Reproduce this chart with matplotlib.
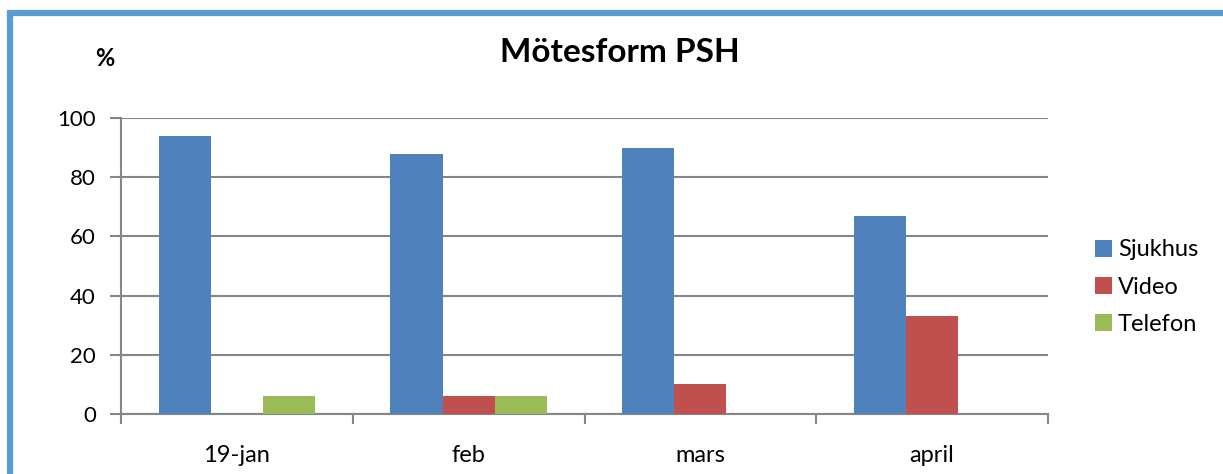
import matplotlib
matplotlib.use("Agg")
import matplotlib.pyplot as plt
import numpy as np
from matplotlib.patches import Rectangle

categories = ["19-jan", "feb", "mars", "april"]
sjukhus = [94, 88, 90, 67]
video = [0, 6, 10, 33]
telefon = [6, 6, 0, 0]
series_names = ["Sjukhus", "Video", "Telefon"]
colors = ["#4F81BD", "#C0504D", "#9BBB59"]
yticks = [0, 20, 40, 60, 80, 100]

plt.rcParams['font.family'] = ['Lato', 'DejaVu Sans']

W, H = 1223, 474
fig = plt.figure(figsize=(W / 100, H / 100), dpi=100)
ax = fig.add_axes([121 / W, 1 - 414 / H, (1048 - 121) / W, (414 - 118) / H])

x = np.arange(len(categories))
bw = 0.225
for i, (vals, name, c) in enumerate(zip([sjukhus, video, telefon], series_names, colors)):
    ax.bar(x + (i - 1) * bw, vals, width=bw, color=c, label=name, zorder=3)

ax.set_xlim(-0.5, len(categories) - 0.5)
ax.set_ylim(0, 100)
ax.set_yticks(yticks)
ax.set_xticks(x)
ax.set_xticklabels(categories)
ax.set_xticks(np.arange(-0.5, len(categories)), minor=True)
ax.tick_params(axis='x', which='major', length=0, pad=22, labelsize=17)
ax.tick_params(axis='x', which='minor', length=7, width=1.5, color='#868686', direction='out')
ax.tick_params(axis='y', length=8, width=1.5, color='#868686', direction='out', pad=10, labelsize=16)
ax.grid(axis='y', color='#868686', linewidth=1.5, zorder=0)
for s in ['top', 'right']:
    ax.spines[s].set_visible(False)
for s in ['left', 'bottom']:
    ax.spines[s].set_color('#868686')
    ax.spines[s].set_linewidth(1.5)

fig.text(620 / W, 1 - 62 / H, "Mötesform PSH", fontsize=24, fontweight='bold',
         ha='center', va='baseline')
fig.text(105 / W, 1 - 58 / H, "%", fontsize=17, fontweight='bold', ha='center', va='center')

leg = fig.legend(loc='center left', bbox_to_anchor=(1095 / W, 1 - 287 / H), frameon=False,
                 fontsize=17, handlelength=0.72, handleheight=0.72, handletextpad=0.25,
                 labelspacing=0.68, borderpad=0, borderaxespad=0)

fig.patches.append(Rectangle((10 / W, -0.1), 1.2, 1 - 13 / H + 0.1, transform=fig.transFigure,
                             fill=False, edgecolor='#5B9BD5', linewidth=4.5, zorder=10))

fig.savefig("out.png", dpi=100)
